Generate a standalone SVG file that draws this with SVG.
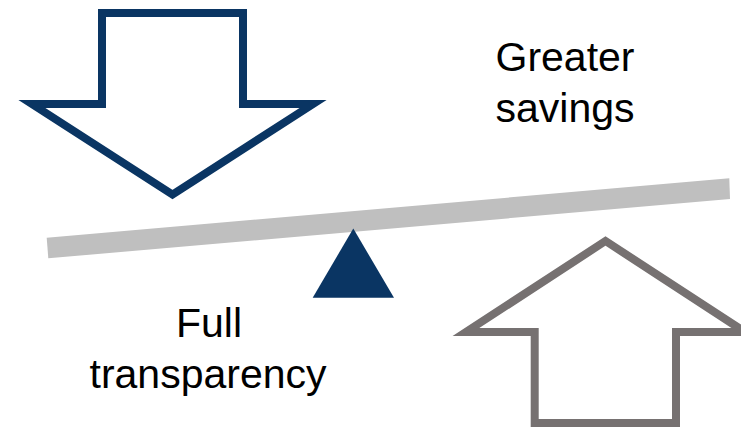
<svg xmlns="http://www.w3.org/2000/svg" width="741" height="428" viewBox="0 0 741 428">
<style>
.lbl{font-family:"Liberation Sans",Arial,sans-serif;font-size:41px;fill:#000;text-anchor:middle}
.arrow{fill:#fff;stroke-width:8;stroke-linejoin:miter;stroke-miterlimit:10}
</style>
<rect width="741" height="428" fill="#fff"/>
<g id="down-arrow">
<polygon class="arrow" stroke="#0A3563" points="102,13 243,13 243,104 313,104 172.5,194.5 32,104 102,104"/>
</g>
<g id="up-arrow">
<polygon class="arrow" stroke="#767171" stroke-width="7.5" points="534.7,423 676,423 676,332 745,332 605.5,241 466,332 534.7,332"/>
</g>
<g id="beam">
<polygon fill="#BFBFBF" points="46.7,237.7 729.3,178.3 730,199 48.3,258.3"/>
</g>
<g id="fulcrum">
<polygon fill="#0A3563" points="353.3,228.5 394,297.8 312.7,297.8"/>
</g>
<g id="label-savings">
<text class="lbl" x="565" y="71">Greater</text>
<text class="lbl" x="565" y="122">savings</text>
</g>
<g id="label-transparency">
<text class="lbl" x="209" y="337">Full</text>
<text class="lbl" x="208" y="388">transparency</text>
</g>
<g id="connectors"></g>
</svg>
